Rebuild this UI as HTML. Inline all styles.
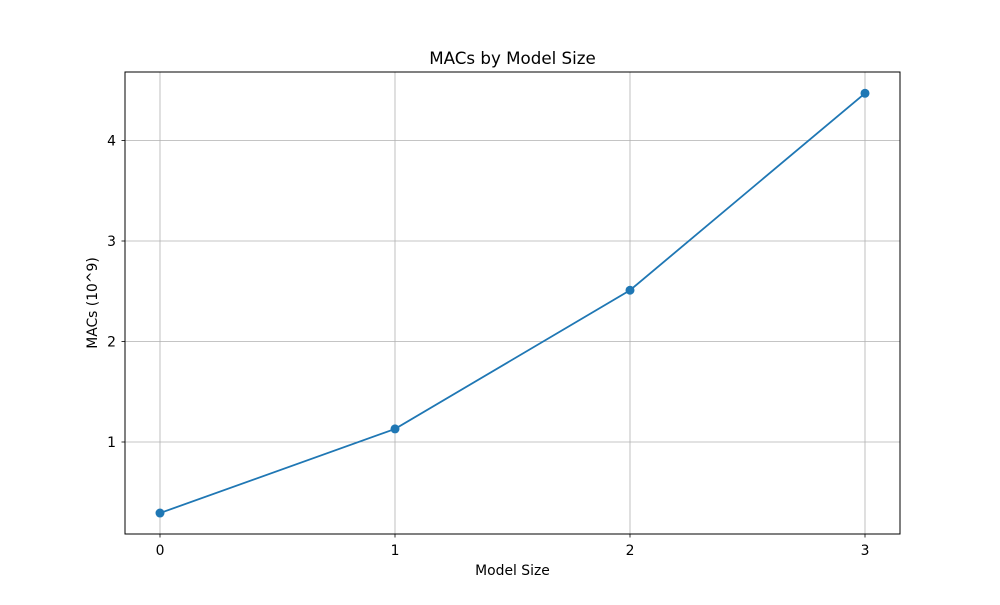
<!DOCTYPE html>
<html><head><meta charset="utf-8"><style>
body{margin:0;background:#fff;}
svg text{font-family:"DejaVu Sans","Liberation Sans",sans-serif;fill:#000;}
</style></head><body>
<svg width="1000" height="600" xmlns="http://www.w3.org/2000/svg">
<rect width="1000" height="600" fill="#fff"/>
<g id="grid"></g>
<g id="ticks"></g>
<rect x="125" y="72" width="775" height="462" fill="none" stroke="#000" stroke-width="1"/>
<g id="series"></g>
<text x="512.5" y="64" text-anchor="middle" font-size="16.7">MACs by Model Size</text>
<text x="512.5" y="575" text-anchor="middle" font-size="13.9">Model Size</text>
<text transform="translate(97,303) rotate(-90)" text-anchor="middle" font-size="13.9">MACs (10^9)</text>
</svg>
<script>
const categories=[0,1,2,3];
const macs=[0.293,1.13,2.51,4.47];
const xTickLabels=["0","1","2","3"];
const yTicks=[1,2,3,4];
const NS="http://www.w3.org/2000/svg";
function xs(v){return 160+v*235;}
function ys(v){return 442-(v-1)*100.5;}
const grid=document.getElementById('grid'),ticks=document.getElementById('ticks'),series=document.getElementById('series');
function mk(tag,attrs,parent){const e=document.createElementNS(NS,tag);for(const k in attrs)e.setAttribute(k,attrs[k]);parent.appendChild(e);return e;}
categories.forEach((c,i)=>{
 const x=xs(c);
 const g=mk('line',{x1:x,x2:x,y1:72,y2:534,stroke:'#b0b0b0','stroke-width':0.8},grid);
 
 
 mk('line',{x1:x,x2:x,y1:534,y2:537.5,stroke:'#000','stroke-width':0.8},ticks);
 const t=mk('text',{x:x,y:555,'text-anchor':'middle','font-size':13.9},ticks);
 t.textContent=xTickLabels[i];
 
 
});
yTicks.forEach(v=>{
 const y=ys(v);
 const g=mk('line',{x1:125,x2:900,y1:y,y2:y,stroke:'#b0b0b0','stroke-width':0.8},grid);
 
 
 mk('line',{x1:121.5,x2:125,y1:y,y2:y,stroke:'#000','stroke-width':0.8},ticks);
 const t=mk('text',{x:116,y:y+5,'text-anchor':'end','font-size':13.9},ticks);
 t.textContent=String(v);
 
 
});
const pts=categories.map((c,i)=>xs(c)+','+ys(macs[i])).join(' ');
const pl=mk('polyline',{points:pts,fill:'none',stroke:'#1f77b4','stroke-width':1.8},series);


categories.forEach((c,i)=>{
 const p=mk('circle',{cx:xs(c),cy:ys(macs[i]),r:4.5,fill:'#1f77b4'},series);
 
 
});
</script>
</body></html>
